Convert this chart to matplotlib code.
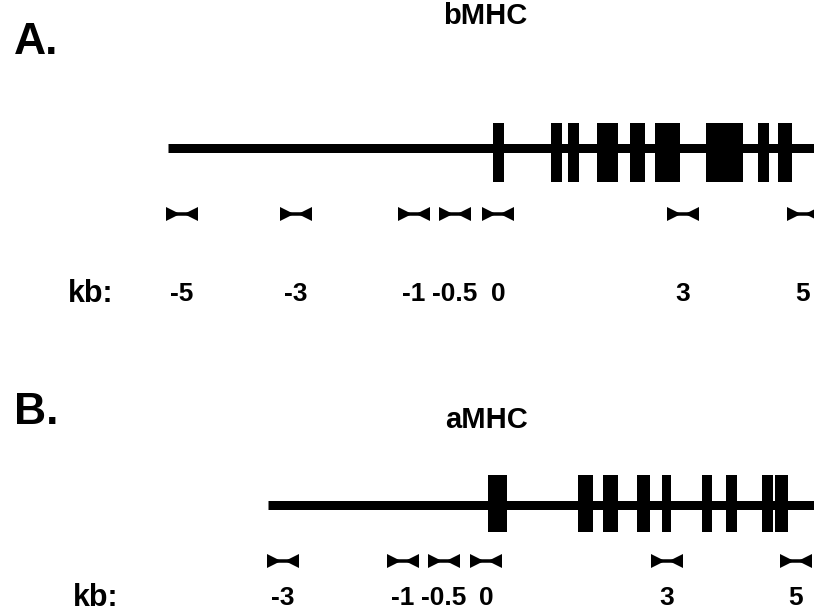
import matplotlib.pyplot as plt

# gene schematics, drawn in pixel units of the original figure
b_exon_start = [493, 551, 568, 597, 630, 655, 706, 758, 778]
b_exon_end = [504, 562, 579, 618, 645, 680, 743, 769, 792]
b_primer_x = [182, 296, 414, 455, 498, 683, 803]
b_primer_lbl = ['-5', '-3', '-1', '-0.5', '0', '3', '5']

a_exon_start = [488, 578, 603, 637, 662, 702, 726, 762, 775]
a_exon_end = [507, 593, 618, 650, 671, 712, 737, 773, 788]
a_primer_x = [283, 403, 444, 486, 667, 796]
a_primer_lbl = ['-3', '-1', '-0.5', '0', '3', '5']

PX = 72 / 100  # points per pixel


def draw_gene(ax, line_x0, line_y, starts, ends, exon_top, exon_bot,
              primers, labels, primer_y, label_y, kb_x):
    ax.hlines(line_y, line_x0, 814, color='black', linewidth=9 * PX,
              capstyle='butt')
    widths = [e - s for s, e in zip(starts, ends)]
    ax.broken_barh(list(zip(starts, widths)), (exon_top, exon_bot - exon_top),
                   facecolor='black', edgecolor='none')
    for x in primers:
        ax.plot([x - 9, x + 9], [primer_y, primer_y], color='black',
                linewidth=3.5 * PX, solid_capstyle='butt')
        ax.plot(x - 9, primer_y, marker='>', color='black',
                markersize=14 * PX, markeredgewidth=0)
        ax.plot(x + 9, primer_y, marker='<', color='black',
                markersize=14 * PX, markeredgewidth=0)
    for x, t in zip(primers, labels):
        ax.text(x, label_y, t, ha='center', va='center', fontsize=19,
                fontweight='bold', fontstretch='condensed',
                family=['Liberation Sans Narrow', 'Liberation Sans'])
    ax.text(kb_x, label_y, 'kb:', ha='center', va='center', fontsize=22,
            fontweight='bold', family='Liberation Sans')


fig = plt.figure(figsize=(8.14, 6.15), dpi=100)
ax = fig.add_axes([0, 0, 1, 1])
ax.set_xlim(0, 814)
ax.set_ylim(615, 0)
ax.axis('off')

draw_gene(ax, 168, 148, b_exon_start, b_exon_end, 123, 182,
          b_primer_x, b_primer_lbl, 214, 294, 91)
draw_gene(ax, 268, 505, a_exon_start, a_exon_end, 475, 532,
          a_primer_x, a_primer_lbl, 561, 598, 96)

ax.text(485, 16, 'bMHC', ha='center', va='center', fontsize=21,
        fontweight='bold', family='Liberation Sans')
ax.text(487, 420, 'aMHC', ha='center', va='center', fontsize=21,
        fontweight='bold', family='Liberation Sans')
ax.text(36, 43, 'A.', ha='center', va='center', fontsize=32,
        fontweight='bold', family='Liberation Sans')
ax.text(36, 412, 'B.', ha='center', va='center', fontsize=32,
        fontweight='bold', family='Liberation Sans')

fig.savefig('out.png', dpi=100)
